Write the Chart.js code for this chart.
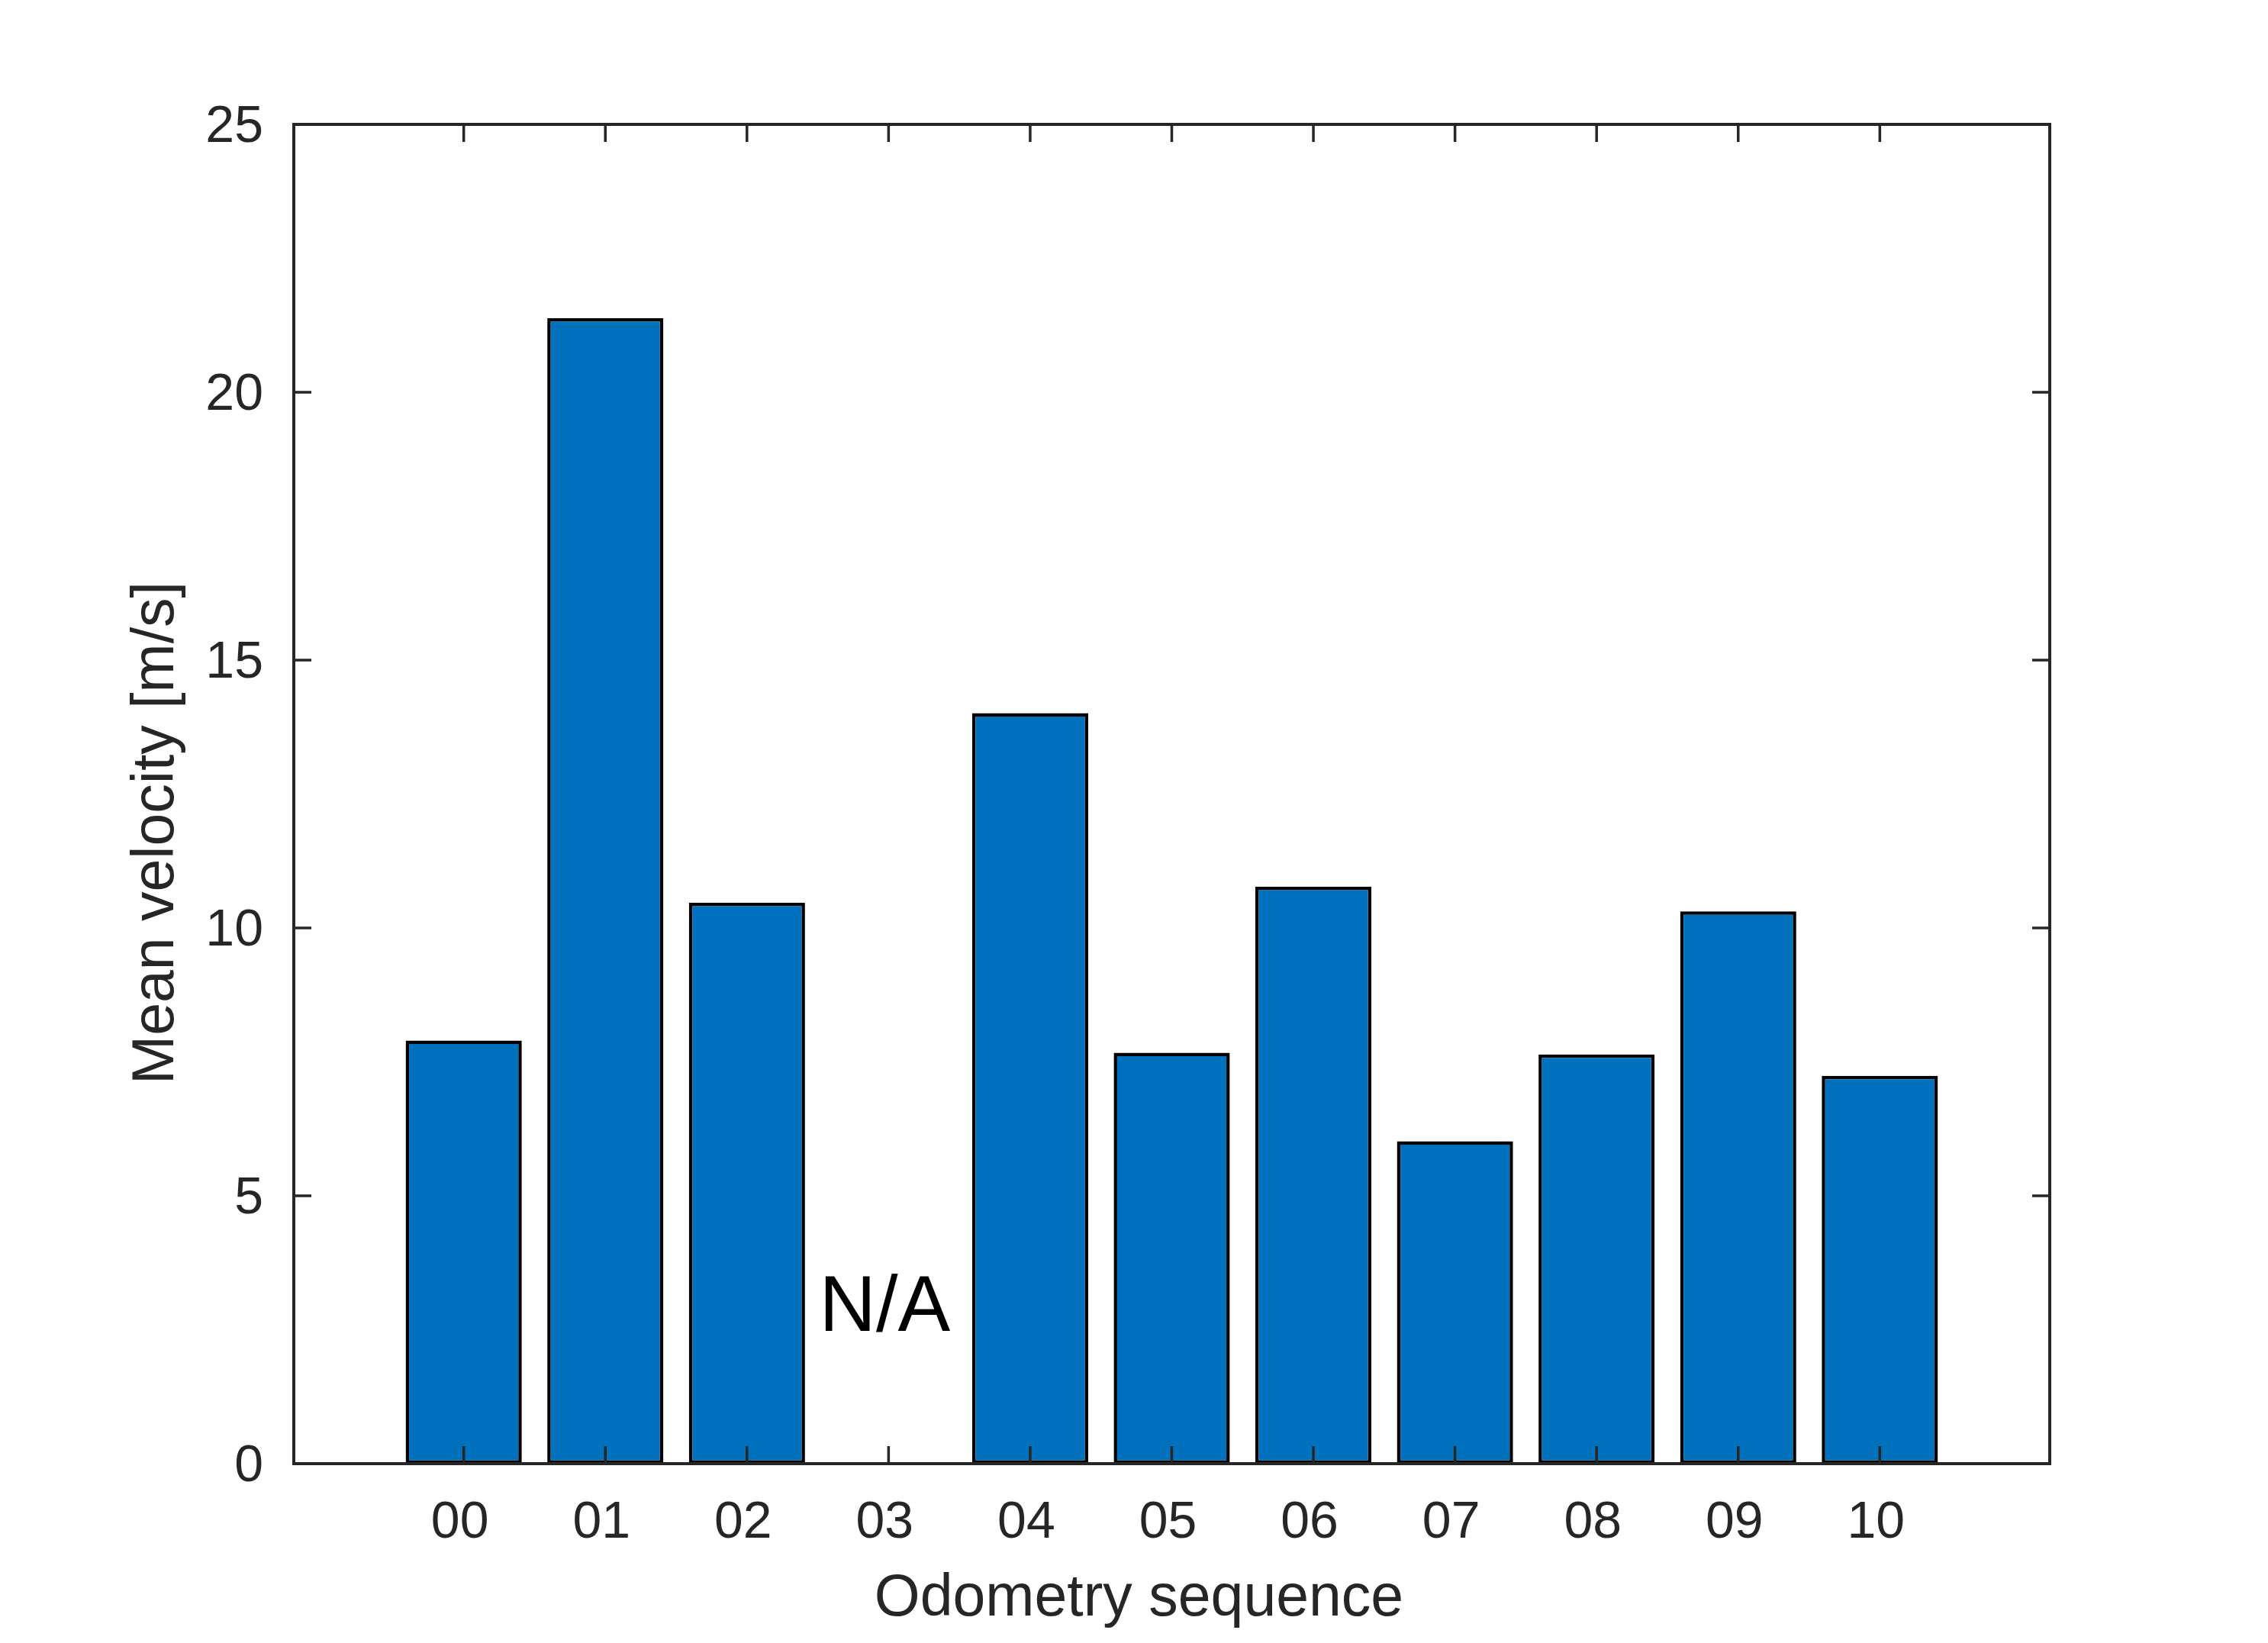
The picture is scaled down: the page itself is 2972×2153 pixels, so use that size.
<!DOCTYPE html>
<html>
<head>
<meta charset="utf-8">
<script src="https://cdn.jsdelivr.net/npm/chart.js@4/dist/chart.umd.min.js"></script>
<style>
  html, body { margin: 0; padding: 0; background: #ffffff; }
  canvas { display: block; }
</style>
</head>
<body>
<canvas id="velocityChart" width="2972" height="2153"></canvas>
<script>
// categories and values
const sequences = ['00', '01', '02', '03', '04', '05', '06', '07', '08', '09', '10'];
const meanVelocity = [7.9, 21.38, 10.47, null, 14.01, 7.67, 10.77, 6.02, 7.64, 10.31, 7.24];
const yTicks = [0, 5, 10, 15, 20, 25];
const missingLabel = { index: 3, value: 3, text: 'N/A' };

const axisColor = '#262626';
const fontFamily = '"Liberation Sans", Arial, Helvetica, sans-serif';

// box, inward ticks on all four sides, axis labels and the N/A note
const matlabAxes = {
    id: 'matlabAxes',
    afterDraw(chart) {
        const ctx = chart.ctx;
        const area = chart.chartArea;
        const xs = chart.scales.x;
        const ys = chart.scales.y;
        const tickLen = 23;

        ctx.save();
        ctx.strokeStyle = axisColor;
        ctx.lineWidth = 3.5;
        ctx.beginPath();
        xs.ticks.forEach(t => {
            const px = xs.getPixelForValue(t.value);
            ctx.moveTo(px, area.bottom);
            ctx.lineTo(px, area.bottom - tickLen);
            ctx.moveTo(px, area.top);
            ctx.lineTo(px, area.top + tickLen);
        });
        ys.ticks.forEach(t => {
            const py = ys.getPixelForValue(t.value);
            ctx.moveTo(area.left, py);
            ctx.lineTo(area.left + tickLen, py);
            ctx.moveTo(area.right, py);
            ctx.lineTo(area.right - tickLen, py);
        });
        ctx.stroke();

        ctx.lineWidth = 4;
        ctx.strokeRect(area.left, area.top, area.right - area.left, area.bottom - area.top);

        // N/A note
        ctx.fillStyle = '#000000';
        ctx.font = '103px ' + fontFamily;
        ctx.textAlign = 'center';
        ctx.textBaseline = 'alphabetic';
        ctx.fillText(missingLabel.text, xs.getPixelForValue(missingLabel.index) - 5,
            ys.getPixelForValue(missingLabel.value) + 37);

        // axis titles
        ctx.fillStyle = axisColor;
        ctx.font = '77px ' + fontFamily;
        ctx.fillText('Odometry sequence', (area.left + area.right) / 2 - 43, area.bottom + 199);

        ctx.translate(227, (area.top + area.bottom) / 2 + 51);
        ctx.rotate(-Math.PI / 2);
        ctx.fillText('Mean velocity [m/s]', 0, 0);
        ctx.restore();
    }
};

const ctx = document.getElementById('velocityChart').getContext('2d');
new Chart(ctx, {
    type: 'bar',
    data: {
        datasets: [{
            label: 'Mean velocity',
            data: sequences.map((s, i) => ({ x: i, y: meanVelocity[i] })),
            backgroundColor: '#0072BD',
            borderColor: '#000000',
            borderWidth: 4.5,
            borderSkipped: false,
            barPercentage: 0.82,
            categoryPercentage: 1.0
        }]
    },
    options: {
        responsive: false,
        animation: false,
        devicePixelRatio: 1,
        layout: {
            padding: { top: 163, right: 286, left: 0, bottom: 0 }
        },
        plugins: {
            legend: { display: false },
            tooltip: { enabled: false }
        },
        scales: {
            x: {
                type: 'linear',
                min: -1.2,
                max: 11.2,
                offset: false,
                afterBuildTicks: s => { s.ticks = sequences.map((c, i) => ({ value: i })); },
                afterFit: s => { s.height = 235; },
                ticks: {
                    color: axisColor,
                    font: { family: fontFamily, size: 68 },
                    padding: 37,
                    labelOffset: -5,
                    maxRotation: 0,
                    autoSkip: false,
                    callback: v => sequences[v]
                },
                grid: { display: false, drawTicks: false },
                border: { display: false }
            },
            y: {
                min: 0,
                max: 25,
                afterBuildTicks: s => { s.ticks = yTicks.map(v => ({ value: v })); },
                afterFit: s => { s.width = 385; },
                ticks: {
                    color: axisColor,
                    font: { family: fontFamily, size: 68 },
                    padding: 40,
                    labelOffset: 4
                },
                grid: { display: false, drawTicks: false },
                border: { display: false }
            }
        }
    },
    plugins: [matlabAxes]
});
</script>
</body>
</html>
